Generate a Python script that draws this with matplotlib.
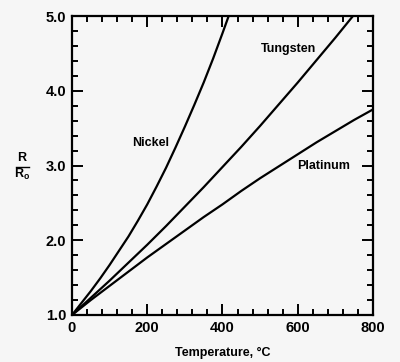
import matplotlib
matplotlib.use("Agg")
import matplotlib.pyplot as plt
from matplotlib.ticker import MultipleLocator
from matplotlib.lines import Line2D

plt.rcParams['font.family'] = ['Liberation Sans', 'DejaVu Sans']

# data (R/Ro vs temperature in deg C)
nickel_t = [0, 25, 50, 75, 100, 125, 150, 175, 200, 225, 250, 275, 300, 325, 350, 375, 400, 425]
nickel_r = [1.0, 1.16, 1.32, 1.49, 1.67, 1.86, 2.05, 2.26, 2.48, 2.72, 2.97, 3.24,
            3.52, 3.81, 4.11, 4.43, 4.77, 5.12]

tungsten_t = [0, 50, 100, 150, 200, 250, 300, 350, 400, 450, 500, 550, 600, 650, 700, 750]
tungsten_r = [1.0, 1.23, 1.46, 1.70, 1.94, 2.19, 2.45, 2.71, 2.98, 3.25, 3.53, 3.82,
              4.11, 4.41, 4.71, 5.02]

platinum_t = [0, 50, 100, 150, 200, 250, 300, 350, 400, 450, 500, 550, 600, 650, 700, 750, 800]
platinum_r = [1.0, 1.20, 1.39, 1.58, 1.77, 1.95, 2.13, 2.31, 2.48, 2.66, 2.83, 2.99,
              3.15, 3.31, 3.46, 3.61, 3.75]

xticks = [0, 200, 400, 600, 800]
yticks = [1.0, 2.0, 3.0, 4.0, 5.0]

bg = '#f6f6f6'
W, H = 400, 362
fig = plt.figure(figsize=(W / 100, H / 100), dpi=100, facecolor=bg)
ax = fig.add_axes([72 / W, 1 - 315 / H, 301 / W, 299 / H], facecolor=bg)

for t, r in [(nickel_t, nickel_r), (tungsten_t, tungsten_r), (platinum_t, platinum_r)]:
    ax.plot(t, r, color='black', lw=1.6, solid_joinstyle='round')

ax.set_xlim(0, 800)
ax.set_ylim(1.0, 5.0)
ax.set_xticks(xticks)
ax.set_xticklabels([str(v) for v in xticks])
ax.set_yticks(yticks)
ax.set_yticklabels(['%.1f' % v for v in yticks])
ax.xaxis.set_minor_locator(MultipleLocator(40))
ax.yaxis.set_minor_locator(MultipleLocator(0.2))
ax.tick_params(which='both', direction='in', top=True, right=True, width=1.4, color='black')
ax.tick_params(which='major', length=8)
ax.tick_params(which='minor', length=4)
ax.tick_params(axis='both', which='major', labelsize=10.5, pad=4)
for lab in ax.get_xticklabels() + ax.get_yticklabels():
    lab.set_fontweight('bold')
for s in ax.spines.values():
    s.set_linewidth(1.6)

ax.set_xlabel('Temperature, °C', fontsize=9, fontweight='bold', labelpad=9)

ax.text(210, 3.30, 'Nickel', fontsize=9, fontweight='bold', ha='center', va='center')
ax.text(576, 4.56, 'Tungsten', fontsize=9, fontweight='bold', ha='center', va='center')
ax.text(669, 2.99, 'Platinum', fontsize=9, fontweight='bold', ha='center', va='center')

# stacked R / Ro axis label
fig.text(22 / W, 1 - 158 / H, 'R', fontsize=9, fontweight='bold', ha='center', va='center')
fig.add_artist(Line2D([16 / W, 29 / W], [1 - 166.5 / H, 1 - 166.5 / H], color='black', lw=1.0))
fig.text(22 / W, 1 - 174 / H, r'R$_\mathregular{o}$', fontsize=9, fontweight='bold', ha='center', va='center')

fig.savefig('out.png', dpi=100, facecolor=bg)
